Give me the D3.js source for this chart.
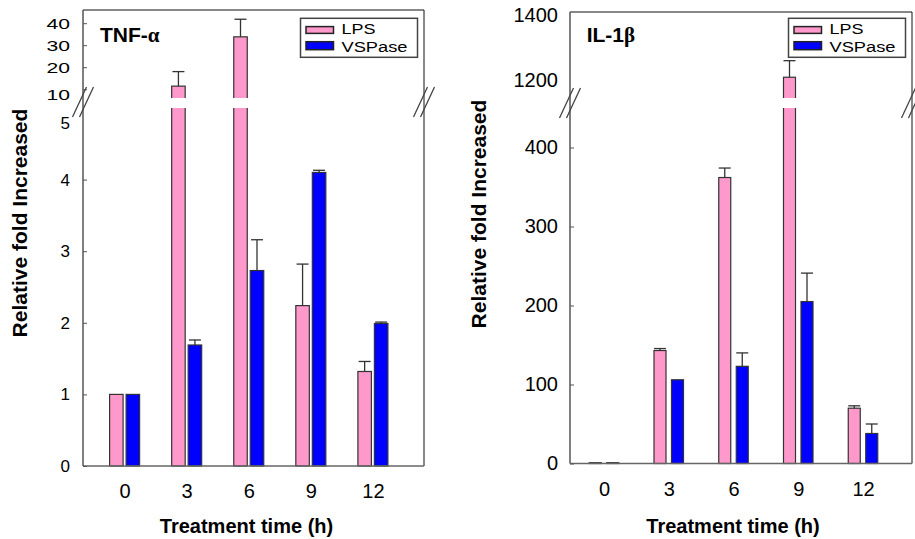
<!DOCTYPE html>
<html>
<head>
<meta charset="utf-8">
<script src="https://cdn.jsdelivr.net/npm/d3@7"></script>
<style>
  html, body { margin: 0; padding: 0; background: #fff; }
  svg { display: block; font-family: "Liberation Sans", Arial, sans-serif; }
</style>
</head>
<body>
<svg id="chart" width="915" height="539"></svg>
<script>
// ---------------- data ----------------
const times = [0, 3, 6, 9, 12];
const timeLabels = ["0", "3", "6", "9", "12"];
const seriesNames = ["LPS", "VSPase"];

const tnfLPS     = [1, 11.4, 33.8, 2.24, 1.32];
const tnfLPSErr  = [0, 6.6, 8.0, 0.58, 0.14];
const tnfVSP     = [1, 1.69, 2.73, 4.10, 1.99];
const tnfVSPErr  = [0, 0.07, 0.43, 0.03, 0.02];

const ilLPS      = [1, 143, 362, 1209, 70];
const ilLPSErr   = [0, 2.5, 12, 51, 3];
const ilVSP      = [1, 106, 123, 205, 38];
const ilVSPErr   = [0, 0, 17, 36, 12];

const tnfLowTicks  = [0, 1, 2, 3, 4, 5];
const tnfHighTicks = [10, 20, 30, 40];
const ilLowTicks   = [0, 100, 200, 300, 400];
const ilHighTicks  = [1200, 1400];

// ---------------- style ----------------
const colors = ["#ff99cc", "#0000ff"];
const svg = d3.select("#chart");
const fmt = d3.format("d");

function drawPanel(cfg) {
  const g = svg.append("g");
  const x = d3.scaleLinear().domain([0, 12]).range(cfg.xRange);
  const yLow = d3.scaleLinear().domain(cfg.lowDomain).range([cfg.yBottom, cfg.lowTop]);
  const yHigh = d3.scaleLinear().domain(cfg.highDomain).range([cfg.highBottom, cfg.yTop]);
  const lowMax = cfg.lowDomain[1];
  const yMap = v => v <= lowMax ? yLow(v) : yHigh(v);

  // bars
  const series = [cfg.lps, cfg.vsp];
  const errs = [cfg.lpsErr, cfg.vspErr];
  series.forEach((vals, s) => {
    vals.forEach((v, i) => {
      const cx = x(times[i]);
      const bx = s === 0 ? cx - cfg.gap / 2 - cfg.barW : cx + cfg.gap / 2;
      const top = yMap(v);
      g.append("rect")
        .attr("x", bx).attr("y", top)
        .attr("width", cfg.barW).attr("height", Math.max(yLow(0) - top, 0.5))
        .attr("fill", colors[s]).attr("stroke", "#333").attr("stroke-width", 1.2);
      if (v > lowMax) {
        g.append("rect")
          .attr("x", bx - 2).attr("y", cfg.highBottom)
          .attr("width", cfg.barW + 4).attr("height", cfg.lowTop - cfg.highBottom)
          .attr("fill", "#fff");
      }
      const e = errs[s][i];
      if (e > 0) {
        const ex = bx + cfg.barW / 2;
        const et = yMap(v + e);
        g.append("line").attr("x1", ex).attr("x2", ex).attr("y1", top).attr("y2", et)
          .attr("stroke", "#333").attr("stroke-width", 1.3);
        g.append("line").attr("x1", ex - 6).attr("x2", ex + 6).attr("y1", et).attr("y2", et)
          .attr("stroke", "#333").attr("stroke-width", 1.3);
      }
    });
  });

  // frame
  g.append("line").attr("x1", cfg.x0).attr("x2", cfg.x1).attr("y1", cfg.yTop).attr("y2", cfg.yTop)
    .attr("stroke", "#111").attr("stroke-width", 1);
  g.append("line").attr("x1", cfg.x1).attr("x2", cfg.x1).attr("y1", cfg.yTop).attr("y2", cfg.yBottom)
    .attr("stroke", "#111").attr("stroke-width", 1);
  g.append("line").attr("x1", cfg.x0).attr("x2", cfg.x1).attr("y1", cfg.yBottom).attr("y2", cfg.yBottom)
    .attr("stroke", "#666").attr("stroke-width", 1.5);
  g.append("line").attr("x1", cfg.x0).attr("x2", cfg.x0).attr("y1", cfg.yTop).attr("y2", cfg.yBottom)
    .attr("stroke", "#555").attr("stroke-width", 1.5);

  // y axes
  const axLow = g.append("g").attr("transform", `translate(${cfg.x0},0)`)
    .call(d3.axisLeft(yLow).tickValues(cfg.lowTicks).tickFormat(fmt)
      .tickSizeInner(-4).tickSizeOuter(0).tickPadding(cfg.tickPad));
  axLow.select(".domain").remove();
  axLow.selectAll("line").attr("stroke", "#555");
  axLow.selectAll("text").attr("font-size", cfg.lowFont).attr("fill", "#000")
    .attr("font-family", "Liberation Sans, Arial, sans-serif");
  if (cfg.lowLastShift) {
    const last = axLow.selectAll(".tick").filter(d => d === cfg.lowTicks[cfg.lowTicks.length - 1]);
    last.select("line").remove();
    last.select("text").attr("y", cfg.lowLastShift);
  }

  const axHigh = g.append("g").attr("transform", `translate(${cfg.x0},0)`)
    .call(d3.axisLeft(yHigh).tickValues(cfg.highTicks).tickFormat(fmt)
      .tickSizeInner(-4).tickSizeOuter(0).tickPadding(cfg.tickPad));
  axHigh.select(".domain").remove();
  axHigh.selectAll("line").attr("stroke", "#555");
  axHigh.selectAll("text").attr("font-size", cfg.highFont).attr("fill", "#000")
    .attr("font-family", "Liberation Sans, Arial, sans-serif");
  if (cfg.highStretch) {
    axHigh.selectAll("text").attr("textLength", cfg.highStretch).attr("lengthAdjust", "spacingAndGlyphs");
  }
  if (cfg.highFirstShift) {
    axHigh.selectAll(".tick").filter(d => d === cfg.highTicks[0]).select("text").attr("y", cfg.highFirstShift);
  }
  if (cfg.hideHighTickLines) axHigh.selectAll("line").remove();

  // x axis labels
  const axX = g.append("g").attr("transform", `translate(0,${cfg.yBottom})`)
    .call(d3.axisBottom(x).tickValues(times).tickFormat((d, i) => timeLabels[i]).tickSize(0).tickPadding(cfg.xPad));
  axX.select(".domain").remove();
  axX.selectAll("text").attr("font-size", 20).attr("fill", "#000")
    .attr("font-family", "Liberation Sans, Arial, sans-serif");

  // break marks
  [[cfg.x0, cfg.breakY], [cfg.x1, cfg.breakY]].forEach(([bx, by]) => {
    [-3.5, 3.5].forEach(off => {
      g.append("line")
        .attr("x1", bx + off - 7).attr("y1", by + 15)
        .attr("x2", bx + off + 7).attr("y2", by - 15)
        .attr("stroke", "#444").attr("stroke-width", 1.3);
    });
  });

  // panel label
  const t = g.append("text").attr("x", cfg.labelX).attr("y", 42)
    .attr("font-size", 21).attr("font-weight", "bold").attr("fill", "#000");
  t.append("tspan").text(cfg.labelMain);
  t.append("tspan").attr("font-family", "Liberation Serif, DejaVu Serif, serif").text(cfg.labelGreek);

  // y title
  g.append("text")
    .attr("transform", `translate(${cfg.yTitleX},${cfg.yTitleY}) rotate(-90)`)
    .attr("text-anchor", "middle").attr("font-size", 21).attr("font-weight", "bold")
    .attr("fill", "#000").text("Relative fold Increased");

  // x title
  g.append("text").attr("x", cfg.xTitleX).attr("y", 533)
    .attr("text-anchor", "middle").attr("font-size", 20).attr("font-weight", "bold")
    .attr("fill", "#000").text("Treatment time (h)");

  // legend
  const lw = 117, lh = 39;
  const lx = cfg.x1 - 6.5 - lw, ly = 18.3;
  const lg = g.append("g").attr("transform", `translate(${lx},${ly})`);
  lg.append("rect").attr("width", lw).attr("height", lh).attr("fill", "#fff")
    .attr("stroke", "#444").attr("stroke-width", 1.5);
  seriesNames.forEach((name, i) => {
    lg.append("rect").attr("x", 5.5).attr("y", i === 0 ? 8.3 : 23.4)
      .attr("width", 27.5).attr("height", i === 0 ? 6.8 : 8)
      .attr("fill", colors[i]).attr("stroke", "#222").attr("stroke-width", 1.5);
    lg.append("text").attr("x", 41).attr("y", i === 0 ? 15.8 : 33.4)
      .attr("font-size", 15.5).attr("fill", "#000")
      .attr("textLength", i === 0 ? 34 : 66).attr("lengthAdjust", "spacingAndGlyphs")
      .text(name);
  });
}

drawPanel({
  x0: 83, x1: 424, yTop: 10, yBottom: 466,
  xRange: [124.6, 372.9], barW: 13.5, gap: 3,
  lowDomain: [0, 5], lowTop: 108,
  highDomain: [6, 46], highBottom: 98,
  breakY: 102,
  lps: tnfLPS, lpsErr: tnfLPSErr, vsp: tnfVSP, vspErr: tnfVSPErr,
  lowTicks: tnfLowTicks, highTicks: tnfHighTicks,
  tickPad: 13, lowFont: 17, highFont: 15, highStretch: 23.5,
  lowLastShift: 15, highFirstShift: 5, hideHighTickLines: false,
  xPad: 18,
  labelX: 100, labelMain: "TNF-", labelGreek: "α",
  yTitleX: 27, yTitleY: 223, xTitleX: 246.5
});

drawPanel({
  x0: 570, x1: 912, yTop: 12, yBottom: 463.5,
  xRange: [604, 863], barW: 12, gap: 5.5,
  lowDomain: [0, 450], lowTop: 108,
  highDomain: [1145, 1410], highBottom: 98,
  breakY: 103,
  lps: ilLPS, lpsErr: ilLPSErr, vsp: ilVSP, vspErr: ilVSPErr,
  lowTicks: ilLowTicks, highTicks: ilHighTicks,
  tickPad: 12, lowFont: 20, highFont: 20, highStretch: null,
  lowLastShift: null, highFirstShift: null, hideHighTickLines: true,
  xPad: 18,
  labelX: 586.7, labelMain: "IL-1", labelGreek: "β",
  yTitleX: 486, yTitleY: 214, xTitleX: 733
});
</script>
</body>
</html>
